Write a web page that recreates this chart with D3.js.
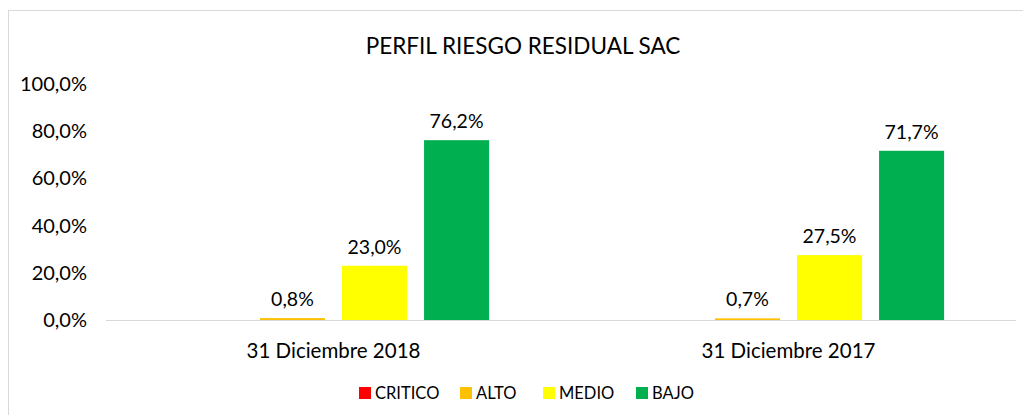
<!DOCTYPE html>
<html>
<head>
<meta charset="utf-8">
<script src="https://cdn.jsdelivr.net/npm/d3@7"></script>
<style>
  body { margin: 0; background: #fff; }
  svg { display: block; font-family: Lato, "Open Sans", sans-serif; }
</style>
</head>
<body>
<div id="chart"></div>
<script>
const categories = ['31 Diciembre 2018', '31 Diciembre 2017'];
const series = ['CRITICO', 'ALTO', 'MEDIO', 'BAJO'];
const colors = ['#FF0000', '#FFC000', '#FFFF00', '#00B050'];
// values per category, same order as series
const values2018 = [0, 0.008, 0.230, 0.762];
const values2017 = [0, 0.007, 0.275, 0.717];
const yTicks = [0, 0.2, 0.4, 0.6, 0.8, 1.0];

const width = 1023, height = 415;
const plotLeft = 106, plotRight = 1016, plotTop = 84, plotBottom = 320;

const svg = d3.select('#chart').append('svg')
  .attr('width', width)
  .attr('height', height);

// chart frame
svg.append('rect')
  .attr('x', 8.5).attr('y', 10.5)
  .attr('width', 1030).attr('height', 420)
  .attr('fill', 'none')
  .attr('stroke', '#D9D9D9');

svg.append('text')
  .attr('x', 523).attr('y', 54)
  .attr('text-anchor', 'middle')
  .attr('font-size', 22.5)
  .attr('fill', '#000')
  .text('PERFIL RIESGO RESIDUAL SAC');

const x0 = d3.scaleBand().domain(categories).range([plotLeft, plotRight])
  .paddingInner(0.316).paddingOuter(0.158);
const x1 = d3.scaleBand().domain(series).range([0, x0.bandwidth()])
  .paddingInner(0.207).paddingOuter(0);
const y = d3.scaleLinear().domain([0, 1]).range([plotBottom, plotTop]);

const fmt = v => (v * 100).toFixed(1).replace('.', ',') + '%';

// y axis labels
svg.append('g')
  .selectAll('text')
  .data(yTicks)
  .join('text')
  .attr('x', 87)
  .attr('y', d => y(d))
  .attr('dy', '0.35em')
  .attr('text-anchor', 'end')
  .attr('font-size', 20)
  .attr('fill', '#000')
  .text(fmt);

const data = [values2018, values2017];

const groups = svg.append('g')
  .selectAll('g')
  .data(categories)
  .join('g')
  .attr('transform', d => `translate(${x0(d)},0)`);

groups.selectAll('rect')
  .data((d, i) => data[i].map((v, j) => ({ key: series[j], value: v, color: colors[j] })))
  .join('rect')
  .attr('x', d => x1(d.key))
  .attr('width', x1.bandwidth())
  .attr('y', d => Math.min(y(d.value), plotBottom - 1.5))
  .attr('height', d => d.value > 0 ? Math.max(plotBottom - y(d.value), 1.5) : 0)
  .attr('fill', d => d.color);

groups.selectAll('text')
  .data((d, i) => data[i].map((v, j) => ({ key: series[j], value: v })).filter(d => d.value > 0))
  .join('text')
  .attr('x', d => x1(d.key) + x1.bandwidth() / 2)
  .attr('y', d => y(d.value) - 12)
  .attr('text-anchor', 'middle')
  .attr('font-size', 19.5)
  .attr('fill', '#000')
  .text(d => fmt(d.value));

// baseline
svg.append('line')
  .attr('x1', plotLeft).attr('x2', plotRight)
  .attr('y1', plotBottom + 0.5).attr('y2', plotBottom + 0.5)
  .attr('stroke', '#D9D9D9');

// category labels
svg.append('g')
  .selectAll('text')
  .data(categories)
  .join('text')
  .attr('x', d => x0(d) + x0.bandwidth() / 2)
  .attr('y', 358)
  .attr('text-anchor', 'middle')
  .attr('font-size', 20.5)
  .attr('fill', '#000')
  .text(d => d);

// legend
const legendX = [359, 460, 543, 636];
const legend = svg.append('g')
  .selectAll('g')
  .data(series)
  .join('g')
  .attr('transform', (d, i) => `translate(${legendX[i]},387)`);

legend.append('rect')
  .attr('width', 12).attr('height', 12)
  .attr('fill', (d, i) => colors[i]);

legend.append('text')
  .attr('x', 16).attr('y', 6)
  .attr('dy', '0.35em')
  .attr('font-size', 16.5)
  .attr('fill', '#000')
  .text(d => d);
</script>
</body>
</html>
